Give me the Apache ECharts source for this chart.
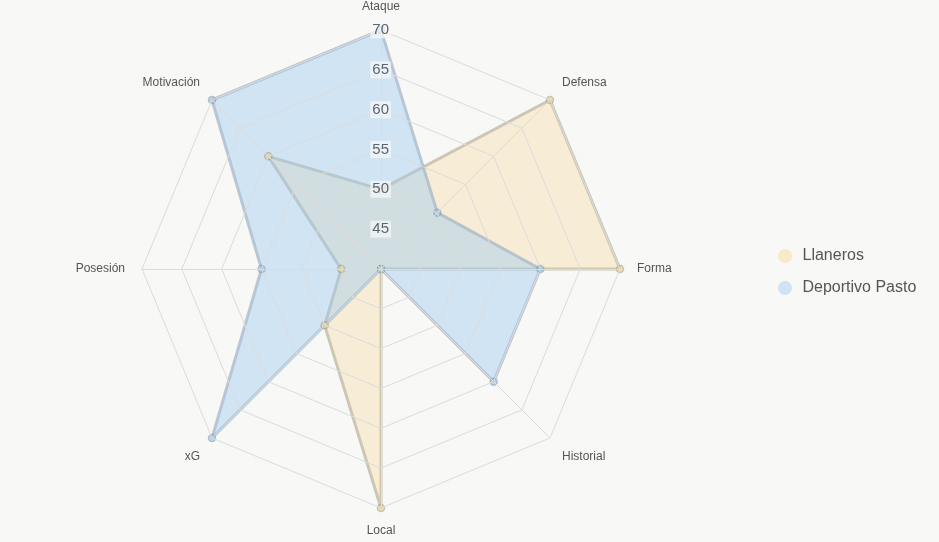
<!DOCTYPE html>
<html>
<head>
<meta charset="utf-8">
<script src="https://cdn.jsdelivr.net/npm/echarts@6/dist/echarts.min.js"></script>
<style>
  html, body { margin: 0; padding: 0; background: #f8f8f7; }
  #main { width: 939px; height: 542px; }
</style>
</head>
<body>
<div id="main"></div>
<script>
// ejes del radar, en sentido horario desde arriba
var indicadores = ['Ataque', 'Defensa', 'Forma', 'Historial', 'Local', 'xG', 'Posesión', 'Motivación'];
var llaneros = [50, 70, 70, 40, 70, 50, 45, 60];
var pasto = [70, 50, 60, 60, 40, 70, 55, 70];
var equipos = ['Llaneros', 'Deportivo Pasto'];

// echarts dibuja el radar en sentido antihorario -> invertir (menos el primero)
function horario(arr) {
    return [arr[0]].concat(arr.slice(1).reverse());
}

// nombres en diagonal un poco más separados
var arriba = ['Defensa', 'Motivación'];
var abajo = ['Historial', 'xG'];

var myChart = echarts.init(document.getElementById('main'));

var option = {
    backgroundColor: '#f8f8f7',
    legend: {
        orient: 'vertical',
        left: 773,
        top: 243,
        icon: 'circle',
        itemWidth: 25,
        itemHeight: 14,
        itemGap: 16,
        textStyle: { color: '#555', fontSize: 16, fontFamily: 'Arial' },
        data: [
            { name: equipos[0], itemStyle: { color: '#f8e9c9', borderWidth: 0 } },
            { name: equipos[1], itemStyle: { color: '#cfe3f4', borderWidth: 0 } }
        ]
    },
    radar: {
        center: [381, 269],
        radius: 239,
        startAngle: 90,
        shape: 'polygon',
        splitNumber: 6,
        z: 3,
        axisName: {
            color: '#555',
            fontSize: 12,
            fontFamily: 'Arial',
            formatter: function (n) {
                if (arriba.indexOf(n) >= 0) return '{up|' + n + '}';
                if (abajo.indexOf(n) >= 0) return '{dn|' + n + '}';
                return n;
            },
            rich: {
                up: { color: '#555', fontSize: 12, fontFamily: 'Arial', padding: [0, 0, 11, 0] },
                dn: { color: '#555', fontSize: 12, fontFamily: 'Arial', padding: [14, 0, 0, 0] }
            }
        },
        nameGap: 17,
        splitLine: { lineStyle: { color: '#dcdcdc', width: 1 } },
        splitArea: { show: false },
        axisLine: { lineStyle: { color: '#dcdcdc' } },
        indicator: horario(indicadores).map(function (n, i) {
            var ind = { name: n, min: 40, max: 70 };
            if (i === 0) {
                ind.axisLabel = {
                    show: true,
                    showMinLabel: false,
                    color: '#5a6572',
                    fontSize: 15,
                    fontFamily: 'Arial',
                    margin: -10,
                    backgroundColor: 'rgba(248,248,247,0.7)',
                    padding: [1, 2]
                };
            }
            return ind;
        })
    },
    series: [{
        type: 'radar',
        symbol: 'circle',
        symbolSize: 7,
        z: 2,
        data: [
            {
                name: equipos[0],
                value: horario(llaneros),
                itemStyle: { color: 'rgba(240,215,150,0.6)', borderColor: 'rgba(150,150,130,0.5)', borderWidth: 1.5 },
                lineStyle: { color: 'rgba(165,165,150,0.6)', width: 3 },
                areaStyle: { color: 'rgba(245,205,130,0.4)' }
            },
            {
                name: equipos[1],
                value: horario(pasto),
                itemStyle: { color: 'rgba(160,200,235,0.6)', borderColor: 'rgba(130,150,170,0.5)', borderWidth: 1.5 },
                lineStyle: { color: 'rgba(155,165,178,0.6)', width: 3 },
                areaStyle: { color: 'rgba(155,200,240,0.6)' }
            }
        ]
    }]
};

myChart.setOption(option);
</script>
</body>
</html>
